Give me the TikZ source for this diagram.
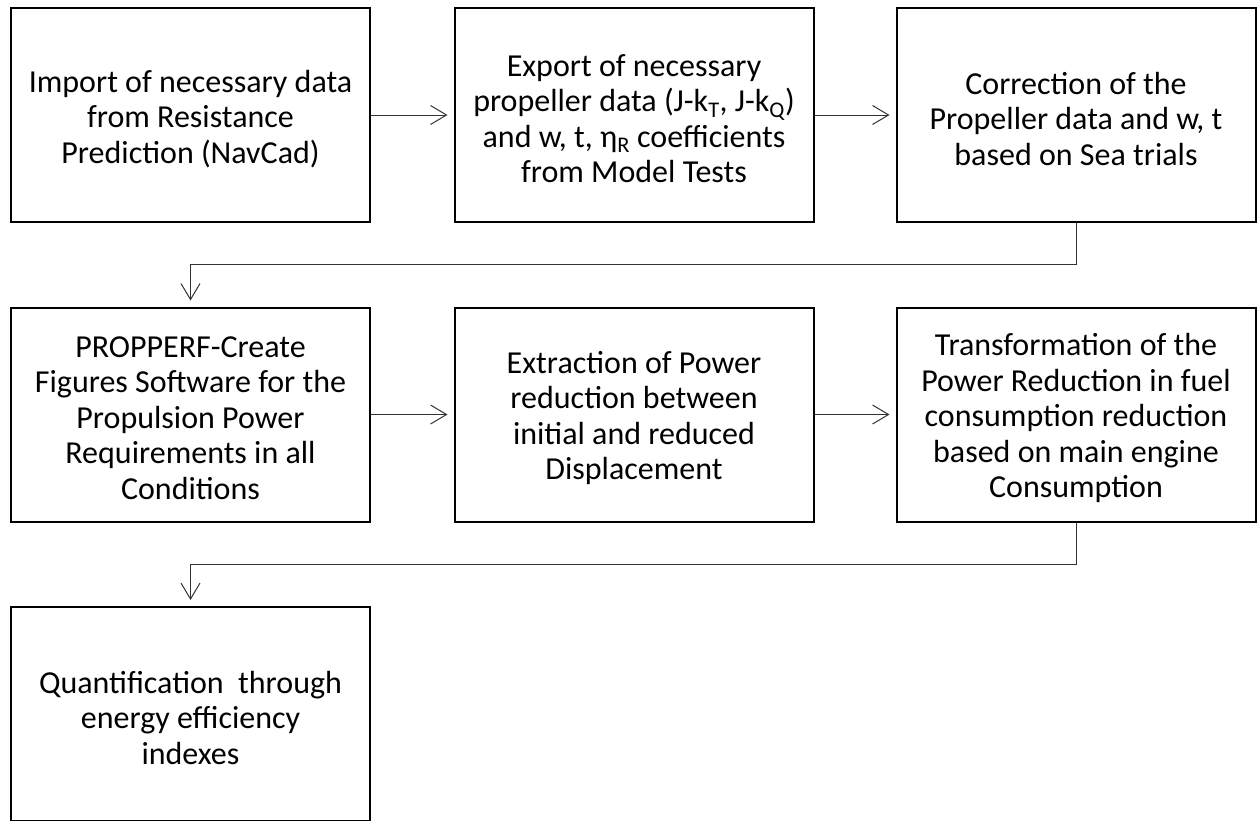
\documentclass[tikz,border=0pt]{standalone}
\usepackage{fontspec}
\setmainfont{Carlito}
\usetikzlibrary{arrows.meta}
\begin{document}
\begin{tikzpicture}[x=1pt,y={(0pt,-1pt)},
  stepbox/.style={draw=black,line width=2pt,minimum width=359pt,minimum height=214pt,inner sep=0pt},
  txt/.style={align=center,inner sep=0pt,font=\fontsize{32pt}{35.5pt}\selectfont},
  conn/.style={line width=1pt,draw=black!80,-{Straight Barb[length=16pt,width=19pt,line width=1pt]},shorten >=6pt}]
\useasboundingbox (0,0) rectangle (1257,820);
\clip (0,0) rectangle (1257,820);
\node[stepbox] (b1) at (190.5,115) {};
\node[stepbox] (b2) at (634,115) {};
\node[stepbox] (b3) at (1076,115) {};
\node[stepbox] (b4) at (190.5,414.5) {};
\node[stepbox] (b5) at (634,414.5) {};
\node[stepbox] (b6) at (1076,414.5) {};
\node[stepbox] (b7) at (190.5,714) {};
\node[txt] (t1) at ([yshift=-4pt]b1.center) {Import of necessary data\\from Resistance\\Prediction (NavCad)};
\node[txt] (t2) at ([yshift=-3.5pt]b2.center) {Export of necessary\\propeller data (J-k\textsubscript{T}, J-k\textsubscript{Q})\\and w, t, η\textsubscript{R} coefficients\\from Model Tests};
\node[txt] (t3) at ([yshift=-4pt]b3.center) {Correction of the\\Propeller data and w, t\\based on Sea trials};
\node[txt] (t4) at ([yshift=-3.5pt]b4.center) {PROPPERF-Create\\Figures Software for the\\Propulsion Power\\Requirements in all\\Conditions};
\node[txt] (t5) at ([yshift=-3.5pt]b5.center) {Extraction of Power\\reduction between\\initial and reduced\\Displacement};
\node[txt] (t6) at ([yshift=-3.5pt]b6.center) {Transformation of the\\Power Reduction in fuel\\consumption reduction\\based on main engine\\Consumption};
\node[txt] (t7) at ([yshift=-3.5pt]b7.center) {Quantification~ through\\energy efficiency\\indexes};
\draw[conn] (b1.east) -- (b2.west);
\draw[conn] (b2.east) -- (b3.west);
\draw[conn] (b4.east) -- (b5.west);
\draw[conn] (b5.east) -- (b6.west);
\coordinate (k1) at (1076,264);
\coordinate (k2) at (1076,564);
\draw[conn] (b3.south) -- (k1) -| (b4.north);
\draw[conn] (b6.south) -- (k2) -| (b7.north);
\end{tikzpicture}
\end{document}
